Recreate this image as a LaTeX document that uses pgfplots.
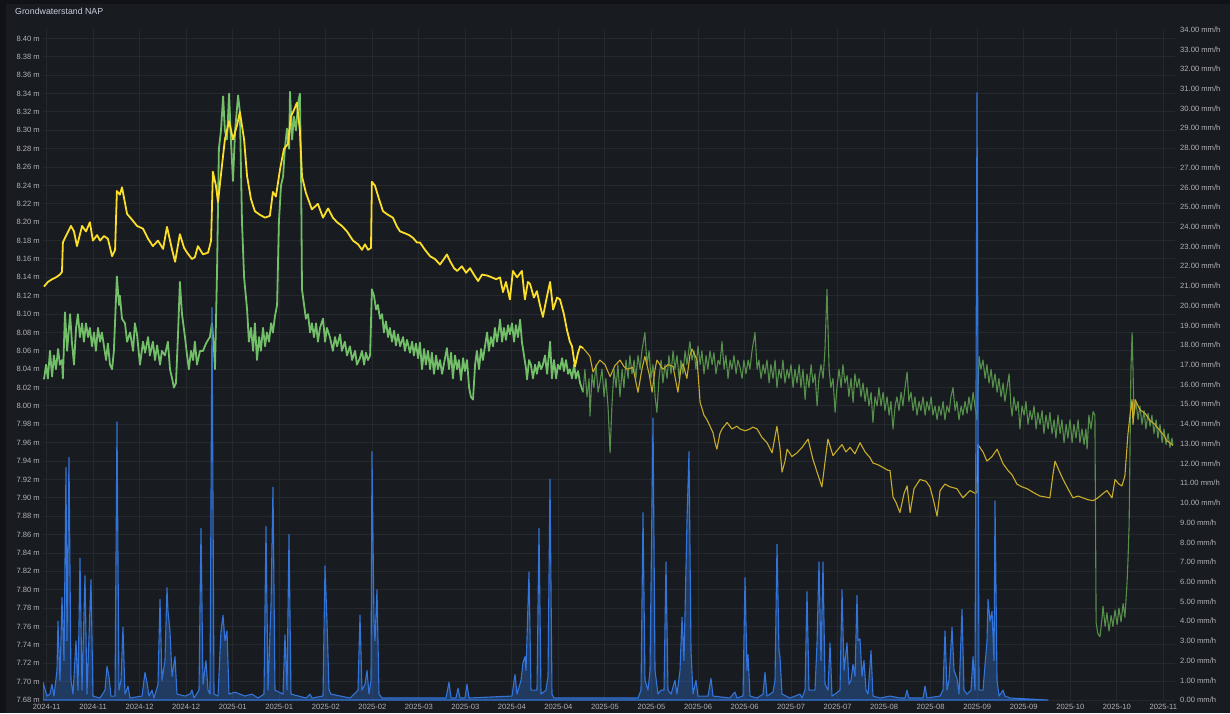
\documentclass[border=0pt]{standalone}
\usepackage{fontspec}
\setmainfont{Liberation Sans}
\usepackage{pgfplots}
\usepackage{pgfplotstable}
\pgfplotsset{compat=1.18}

\definecolor{outerbg}{RGB}{17,18,23}
\definecolor{panelbg}{RGB}{24,27,31}
\definecolor{gridc}{RGB}{37,40,45}
\definecolor{textc}{RGB}{178,178,188}
\definecolor{titlec}{RGB}{204,204,220}
\definecolor{ythick}{RGB}{250,222,42}
\definecolor{ythin}{RGB}{200,172,42}
\definecolor{gthick}{RGB}{115,191,105}
\definecolor{gthin}{RGB}{86,142,76}
\definecolor{rainc}{RGB}{50,116,217}

% x = days since the start of the series
% groundwater level, well A (m NAP), hourly record
\pgfplotstableread{
day level
0 8.130
1.3 8.135
2.7 8.138
4.0 8.140
5.3 8.143
6.0 8.146
6.3 8.178
7.3 8.185
9.0 8.196
10.0 8.190
11.0 8.174
12.7 8.196
14.0 8.190
15.3 8.200
16.3 8.180
17.7 8.186
18.7 8.180
20.0 8.185
21.3 8.182
22.7 8.163
23.7 8.170
24.3 8.234
25.3 8.230
26.0 8.238
27.7 8.209
29.3 8.203
31.0 8.196
33.0 8.193
34.7 8.182
36.3 8.174
38.0 8.180
39.7 8.171
41.0 8.195
42.7 8.170
43.7 8.157
45.3 8.187
46.7 8.172
47.7 8.167
49.3 8.160
50.3 8.162
51.3 8.174
53.0 8.165
54.7 8.167
55.7 8.180
56.3 8.255
57.3 8.240
58.0 8.222
59.3 8.261
60.3 8.290
61.7 8.310
63.0 8.290
64.3 8.305
65.3 8.320
66.7 8.290
67.7 8.250
69.0 8.225
70.3 8.212
72.0 8.208
73.7 8.205
75.3 8.207
76.3 8.233
77.3 8.228
78.7 8.258
80.0 8.280
81.3 8.285
82.3 8.315
83.3 8.322
84.3 8.330
85.3 8.300
86.0 8.250
87.3 8.232
89.3 8.214
91.3 8.220
93.0 8.205
94.7 8.215
96.3 8.205
97.7 8.200
99.3 8.196
101.0 8.190
103.0 8.180
104.7 8.176
106.0 8.170
107.0 8.176
108.0 8.170
109.0 8.172
109.3 8.244
110.3 8.240
111.7 8.225
113.0 8.212
114.7 8.208
116.3 8.205
117.7 8.195
118.7 8.190
120.3 8.188
121.7 8.186
123.0 8.183
124.3 8.178
125.3 8.178
127.0 8.170
128.7 8.163
130.3 8.160
132.0 8.154
133.3 8.160
134.3 8.165
135.3 8.158
136.7 8.150
137.7 8.147
139.3 8.152
140.7 8.145
142.0 8.150
143.3 8.143
144.7 8.136
146.0 8.143
147.7 8.142
149.3 8.140
150.7 8.138
152.0 8.140
153.0 8.124
154.0 8.135
155.3 8.116
156.3 8.147
157.7 8.140
159.3 8.147
160.3 8.116
161.3 8.135
162.0 8.133
163.3 8.118
164.3 8.125
165.3 8.110
166.3 8.097
167.7 8.120
168.7 8.135
169.7 8.105
171.0 8.118
172.0 8.116
173.3 8.100
174.3 8.083
175.3 8.070
176.0 8.065
177.0 8.043
178.0 8.058
178.7 8.065
179.7 8.063
}\wellAhourly

% well A, daily record
\pgfplotstableread{
day level
179.7 8.063
181.0 8.058
182.0 8.054
183.0 8.037
184.3 8.045
185.3 8.050
187.0 8.045
188.7 8.032
190.3 8.044
192.0 8.050
193.3 8.043
194.3 8.040
196.3 8.042
198.0 8.015
199.3 8.040
200.3 8.054
201.7 8.035
202.7 8.015
203.7 8.040
204.3 8.050
206.3 8.040
208.0 8.045
209.7 8.043
211.3 8.015
212.3 8.040
213.0 8.046
214.3 8.030
215.3 8.055
216.0 8.062
217.7 8.050
218.7 8.004
220.0 7.990
221.0 7.985
222.0 7.978
223.0 7.971
223.7 7.960
224.3 7.953
225.3 7.970
226.0 7.975
227.7 7.982
229.3 7.975
231.0 7.978
232.0 7.975
233.7 7.973
235.3 7.975
236.3 7.977
237.7 7.975
239.3 7.966
241.0 7.960
242.7 7.949
244.3 7.978
245.3 7.955
246.0 7.928
247.0 7.940
247.7 7.953
249.3 7.945
251.0 7.949
252.7 7.955
254.7 7.964
256.3 7.942
258.0 7.925
259.3 7.912
261.3 7.964
263.0 7.946
264.7 7.953
266.0 7.958
267.3 7.950
268.7 7.955
270.3 7.948
272.0 7.960
273.7 7.950
275.3 7.944
276.3 7.938
278.0 7.936
279.7 7.933
281.3 7.930
282.0 7.930
283.0 7.901
284.0 7.895
285.3 7.884
286.7 7.905
287.7 7.913
288.7 7.884
290.0 7.910
291.0 7.915
292.0 7.920
294.0 7.918
295.3 7.912
296.3 7.900
297.7 7.880
298.7 7.908
300.3 7.915
302.0 7.912
304.3 7.910
306.3 7.900
308.7 7.908
310.3 7.905
311.0 7.906
311.3 7.958
313.0 7.950
314.3 7.940
316.0 7.945
317.7 7.953
319.7 7.937
321.3 7.930
322.7 7.925
324.3 7.915
326.0 7.912
327.7 7.910
329.7 7.906
332.0 7.902
333.7 7.901
335.3 7.900
336.3 7.925
337.0 7.940
338.3 7.930
339.7 7.920
341.3 7.910
343.0 7.900
344.7 7.902
346.3 7.900
348.0 7.898
349.7 7.897
351.3 7.900
352.7 7.904
354.3 7.908
356.0 7.900
357.0 7.920
358.3 7.915
359.3 7.913
360.3 7.924
361.3 7.969
362.0 7.990
362.7 8.007
363.0 7.980
363.7 8.007
364.7 8.000
365.3 7.996
367.0 7.992
368.7 7.984
370.3 7.980
372.0 7.973
373.3 7.968
374.3 7.962
375.3 7.960
376.3 7.957
}\wellAdaily

% groundwater level, well B (m NAP), hourly record
\pgfplotstableread{
day level
0 8.029
0.7 8.045
1.3 8.030
2.0 8.060
2.7 8.032
3.3 8.055
4.0 8.040
4.7 8.062
5.3 8.045
6.0 8.050
6.3 8.030
7.0 8.102
7.7 8.060
8.7 8.100
9.3 8.070
10.0 8.045
10.7 8.085
11.3 8.100
12.0 8.075
12.7 8.090
13.3 8.070
14.0 8.090
14.7 8.075
15.3 8.085
16.0 8.065
16.7 8.080
17.3 8.060
18.0 8.085
18.7 8.070
19.3 8.080
20.0 8.065
20.7 8.050
21.3 8.068
22.0 8.045
22.7 8.040
23.3 8.060
24.3 8.141
25.0 8.110
25.3 8.120
26.0 8.095
27.0 8.090
27.7 8.070
28.7 8.080
29.7 8.060
30.3 8.090
31.0 8.078
32.0 8.045
33.0 8.070
33.7 8.058
34.7 8.075
35.3 8.055
36.3 8.070
37.0 8.050
37.7 8.066
38.7 8.045
39.3 8.060
40.3 8.055
41.3 8.070
42.0 8.040
42.7 8.030
43.3 8.020
44.0 8.025
44.7 8.080
45.3 8.135
46.0 8.100
47.0 8.075
47.7 8.055
48.3 8.040
49.0 8.060
49.7 8.050
50.3 8.070
51.0 8.045
52.0 8.060
53.0 8.060
54.0 8.068
54.7 8.072
55.3 8.075
56.0 8.090
56.7 8.060
57.0 8.040
57.7 8.150
58.3 8.280
59.0 8.300
59.7 8.337
60.3 8.300
61.0 8.290
61.7 8.340
62.3 8.290
63.0 8.245
63.7 8.300
64.7 8.338
65.3 8.320
66.0 8.200
66.7 8.140
67.7 8.105
68.3 8.070
69.0 8.085
69.7 8.060
70.3 8.090
71.0 8.050
71.7 8.075
72.3 8.060
73.0 8.085
73.7 8.065
74.3 8.080
75.0 8.070
75.7 8.090
76.3 8.080
77.0 8.098
77.7 8.110
78.3 8.200
79.0 8.240
79.7 8.250
80.3 8.280
81.0 8.302
81.7 8.280
82.0 8.342
82.7 8.290
83.3 8.315
84.0 8.300
84.7 8.330
85.3 8.340
85.7 8.250
86.0 8.127
86.7 8.110
87.3 8.095
88.0 8.100
88.7 8.080
89.3 8.090
90.0 8.075
90.7 8.090
91.3 8.070
92.0 8.085
93.0 8.095
93.7 8.070
94.3 8.085
95.3 8.075
96.3 8.060
97.0 8.075
97.7 8.065
98.7 8.078
99.3 8.060
100.3 8.070
101.0 8.055
102.0 8.065
102.7 8.050
103.7 8.060
104.3 8.045
105.3 8.052
106.0 8.060
106.7 8.045
107.3 8.058
108.0 8.050
108.7 8.055
109.3 8.127
110.0 8.120
110.7 8.105
111.3 8.110
112.0 8.095
112.7 8.100
113.3 8.080
114.0 8.092
114.7 8.075
115.3 8.085
116.0 8.070
116.7 8.082
117.3 8.066
118.0 8.078
118.7 8.065
119.7 8.075
120.3 8.060
121.0 8.072
122.0 8.058
122.7 8.070
123.3 8.055
124.0 8.068
124.7 8.052
125.3 8.069
126.0 8.040
126.7 8.062
127.3 8.045
128.0 8.060
128.7 8.040
129.3 8.058
130.0 8.035
130.7 8.055
131.3 8.040
132.0 8.050
132.7 8.035
134.3 8.063
135.0 8.040
135.7 8.058
136.3 8.030
137.0 8.055
137.7 8.040
138.3 8.050
139.0 8.028
139.7 8.052
140.3 8.038
141.0 8.050
141.7 8.020
142.3 8.010
143.0 8.007
143.7 8.045
144.3 8.060
145.0 8.040
145.7 8.062
146.3 8.050
147.0 8.065
147.7 8.080
148.3 8.060
149.0 8.075
149.7 8.065
150.3 8.085
151.0 8.070
151.7 8.085
152.0 8.094
152.7 8.070
153.3 8.085
154.0 8.072
154.7 8.088
155.3 8.078
156.0 8.090
156.7 8.070
157.3 8.088
158.0 8.075
158.7 8.094
159.3 8.070
160.0 8.055
160.7 8.040
161.0 8.029
161.7 8.050
162.3 8.045
163.0 8.030
163.7 8.045
164.3 8.035
165.0 8.048
165.7 8.040
166.3 8.045
167.0 8.055
167.7 8.035
168.7 8.070
169.3 8.030
170.0 8.050
170.7 8.030
171.3 8.045
172.0 8.040
172.7 8.052
173.3 8.038
174.0 8.050
174.7 8.035
175.3 8.040
176.0 8.030
176.7 8.045
177.3 8.030
178.0 8.038
178.7 8.025
179.7 8.015
}\wellBhourly

% well B, daily record
\pgfplotstableread{
day level
179.7 8.015
180.3 8.040
181.0 8.010
181.7 8.030
182.0 7.989
182.7 8.035
183.3 8.020
184.0 8.045
184.7 8.015
185.3 8.025
186.0 8.040
186.7 8.010
187.3 8.030
188.0 8.000
188.7 7.949
189.3 8.000
190.0 8.040
190.7 8.020
191.3 8.045
192.0 8.010
192.7 8.040
193.3 8.020
194.0 8.050
194.7 8.030
195.3 8.055
196.0 8.035
196.7 8.050
197.3 8.030
198.0 8.055
198.7 8.040
199.3 8.060
200.3 8.080
201.0 8.045
201.7 8.060
202.3 8.030
203.0 8.045
203.7 8.010
204.3 7.993
205.0 8.030
205.7 8.050
206.3 8.025
207.0 8.045
207.7 8.030
208.3 8.055
209.0 8.035
209.7 8.060
210.3 8.040
211.0 8.055
211.7 8.030
212.3 8.050
213.0 8.035
213.7 8.060
214.3 8.045
215.3 8.070
216.0 8.050
216.7 8.060
217.3 8.040
218.0 8.065
218.7 8.045
219.3 8.060
220.0 8.035
220.7 8.055
221.3 8.040
222.0 8.060
222.7 8.045
223.3 8.058
224.0 8.035
224.7 8.050
225.3 8.045
226.0 8.070
226.7 8.040
227.3 8.055
228.0 8.030
228.7 8.050
229.3 8.040
230.0 8.055
230.7 8.035
231.3 8.050
232.0 8.042
232.7 8.030
233.3 8.050
234.0 8.035
234.7 8.050
235.3 8.040
236.0 8.060
237.0 8.080
237.7 8.040
238.3 8.050
239.0 8.030
239.7 8.045
240.3 8.035
241.0 8.050
241.7 8.025
242.3 8.045
243.0 8.030
243.7 8.050
244.3 8.020
245.0 8.040
245.7 8.030
246.3 8.050
247.0 8.025
247.7 8.040
248.3 8.030
249.0 8.045
249.7 8.020
250.3 8.040
251.0 8.025
251.7 8.045
252.3 8.020
253.0 8.040
253.7 8.007
254.3 8.035
255.0 8.020
255.7 8.045
256.3 8.025
257.0 8.035
257.7 8.000
258.3 8.030
259.0 8.045
259.7 8.030
260.3 8.060
261.0 8.127
261.7 8.040
262.3 8.020
263.0 8.030
263.7 7.993
264.3 8.020
265.0 8.040
265.7 8.020
266.3 8.045
267.0 8.025
267.7 8.033
268.3 8.010
269.0 8.030
269.7 8.004
270.3 8.035
271.0 8.020
271.7 8.030
272.3 8.010
273.0 8.025
273.7 8.005
274.3 8.020
275.0 8.000
275.7 8.015
276.3 7.982
277.0 8.010
277.7 8.000
278.3 8.020
279.0 8.000
279.7 8.015
280.3 7.995
281.0 8.010
281.7 7.990
282.3 8.005
283.0 7.975
283.7 8.000
284.3 8.010
285.0 7.995
285.7 8.015
286.3 8.000
287.0 8.020
287.7 8.037
288.3 8.005
289.0 8.015
289.7 7.995
290.3 8.010
291.0 7.990
291.7 8.005
292.3 7.995
293.0 8.010
293.7 7.990
294.3 8.005
295.0 7.995
295.7 8.010
296.3 7.990
297.0 8.000
297.7 7.985
298.3 8.000
299.0 7.990
299.7 8.005
300.3 7.985
301.0 8.000
301.7 7.993
302.3 8.010
303.0 8.020
303.7 7.995
304.3 8.005
305.0 7.985
305.7 8.000
306.3 7.990
307.0 8.005
307.7 7.992
308.3 8.010
309.0 7.995
309.7 8.015
310.3 8.000
311.0 7.985
311.7 8.054
312.3 8.040
313.0 8.050
313.7 8.030
314.3 8.045
315.0 8.025
315.7 8.040
316.3 8.020
317.0 8.035
317.7 8.015
318.3 8.030
319.0 8.010
319.7 8.025
320.3 8.005
321.0 8.020
321.7 8.035
322.3 8.000
322.7 7.989
323.3 8.010
324.0 7.995
324.7 8.005
325.3 7.975
326.0 8.000
326.7 7.990
327.3 8.005
328.0 7.980
328.7 7.995
329.3 7.985
330.0 8.000
330.7 7.975
331.3 7.993
332.0 7.980
332.7 7.995
333.3 7.970
334.0 7.990
334.7 7.975
335.3 7.993
336.0 7.970
336.7 7.985
337.3 7.965
338.0 7.990
338.7 7.970
339.3 7.985
340.0 7.960
340.7 7.980
341.3 7.965
342.0 7.985
342.7 7.960
343.3 7.980
344.0 7.965
344.7 7.985
345.3 7.960
346.0 7.975
346.7 7.958
347.3 7.975
347.7 7.953
348.3 7.990
349.0 7.975
349.7 7.994
350.3 7.990
350.7 7.764
351.3 7.752
352.0 7.749
352.7 7.770
353.0 7.782
353.7 7.760
354.3 7.775
355.0 7.755
355.7 7.772
356.3 7.760
357.0 7.778
357.7 7.762
358.3 7.780
359.0 7.765
359.7 7.785
360.3 7.770
361.0 7.807
361.3 7.830
361.7 7.870
362.0 7.953
362.3 8.040
362.7 8.080
363.0 8.040
363.3 7.990
364.0 8.004
364.7 7.985
365.3 8.000
366.0 7.980
366.7 7.995
367.3 7.975
368.0 7.992
368.7 7.978
369.3 7.990
370.0 7.970
370.7 7.985
371.3 7.965
372.0 7.980
372.7 7.960
373.3 7.975
374.0 7.958
374.7 7.970
375.3 7.955
376.0 7.965
376.3 7.957
}\wellBdaily

% precipitation intensity (mm/h)
\pgfplotstableread{
day rate
-0.33 0.9
1.0 0.2
2.0 0.3
2.67 0.8
3.33 0.2
4.33 1.5
4.67 4.0
5.33 1.0
6.0 5.2
6.67 2.0
7.33 11.8
7.67 3.0
8.33 12.3
9.0 1.0
9.67 0.3
10.67 3.0
11.33 0.5
12.0 7.2
12.67 0.5
13.67 6.3
14.33 0.3
15.67 6.1
16.33 0.2
18.67 0.1
20.33 0.5
21.0 1.7
21.67 1.2
22.33 0.2
23.67 0.2
24.33 14.1
25.0 0.5
25.67 1.0
26.33 3.7
27.0 0.3
28.0 0.7
28.67 0.1
32.67 0.2
33.67 1.4
34.33 0.9
35.0 0.2
36.0 0.5
36.67 0.1
38.0 0.8
38.67 5.1
39.33 1.0
40.33 2.0
41.0 5.7
41.33 4.5
42.0 3.5
42.67 1.2
43.67 2.2
44.33 0.3
47.0 0.2
48.67 0.3
49.33 0.5
50.0 0.1
51.67 0.5
52.33 8.7
53.0 0.8
54.0 2.0
54.67 0.5
55.33 0.3
56.0 19.9
56.67 0.3
58.0 0.2
59.0 3.5
59.67 4.3
60.33 3.0
61.0 3.5
61.67 0.3
63.67 0.4
67.0 0.2
69.33 0.3
71.33 0.1
73.33 0.3
74.0 8.8
74.67 0.5
75.67 4.8
76.33 10.8
77.0 0.5
79.67 0.3
80.33 3.3
81.0 0.5
81.67 8.4
82.33 0.3
87.33 0.1
88.67 0.3
89.33 0.1
93.0 0.2
93.67 6.8
94.33 4.0
95.0 0.5
95.67 0.3
102.0 0.1
104.67 0.5
105.33 4.3
106.0 0.5
107.0 0.8
107.67 1.5
108.33 0.3
109.0 1.0
109.33 12.6
110.0 4.0
110.33 3.0
111.0 5.6
111.67 0.3
112.67 0.1
134.0 0.1
135.0 0.9
135.67 0.1
137.33 0.1
138.0 0.6
138.67 0.1
140.33 0.1
141.0 0.8
141.67 0.1
156.0 0.2
157.0 1.3
157.67 0.3
159.0 1.0
159.67 1.9
160.33 2.2
160.67 1.5
161.67 6.5
162.33 0.5
164.33 0.5
165.0 8.7
165.67 0.3
167.33 0.5
168.0 1.2
168.67 11.2
169.33 0.3
170.0 0.1
198.0 0.1
199.0 0.5
199.67 9.5
200.33 1.0
201.33 0.5
202.0 1.5
203.0 14.3
203.67 1.5
204.67 0.3
205.67 0.5
206.67 0.5
207.33 7.0
208.0 0.5
209.0 0.3
210.33 1.0
211.0 0.3
212.0 1.5
212.67 4.2
213.33 2.0
214.33 9.1
215.0 12.6
215.67 2.5
216.33 0.3
217.33 1.0
218.0 0.2
221.33 0.2
222.33 1.1
223.0 0.2
228.67 0.1
229.67 0.3
230.33 0.4
231.0 0.1
233.0 0.2
233.67 6.2
234.33 1.5
234.67 2.3
235.33 0.2
237.67 0.1
239.67 0.3
240.33 1.4
241.0 0.2
243.0 0.4
243.67 1.0
244.33 7.9
245.0 2.5
245.33 2.2
246.0 0.3
248.67 0.1
252.0 0.3
252.67 0.1
253.67 0.5
254.33 5.5
255.0 0.5
257.0 0.5
257.67 2.9
258.33 7.0
259.0 2.0
259.67 7.0
260.33 0.8
261.33 0.5
262.0 2.9
262.67 0.2
263.67 0.3
265.33 0.5
266.0 5.6
266.67 1.5
267.67 2.9
268.33 0.8
269.0 1.0
269.67 1.8
270.33 1.2
271.0 5.3
271.33 3.0
272.0 3.1
272.67 1.2
273.33 2.0
274.0 0.5
274.67 0.3
275.67 2.5
276.33 0.2
278.67 0.1
282.0 0.2
285.33 0.1
287.0 0.1
287.67 0.5
288.33 0.1
293.0 0.1
293.67 0.7
294.33 0.1
298.67 0.2
299.67 0.5
300.33 3.5
301.0 0.5
301.67 1.0
302.67 3.7
303.33 1.5
304.33 1.1
305.0 0.3
306.0 4.6
306.67 0.5
307.67 0.3
309.0 0.5
309.67 2.2
310.33 0.5
311.0 30.8
311.67 0.5
313.0 0.5
313.67 1.8
314.33 3.0
314.67 5.1
315.33 4.0
316.0 4.5
316.67 2.0
317.0 10.1
317.67 1.0
318.33 0.2
319.67 0.5
320.33 0.2
322.0 0.1
334.67 0.0
}\rainfall

\begin{document}
\begin{tikzpicture}
\useasboundingbox (0,0) rectangle (1230pt,713pt);
\fill[outerbg] (0,0) rectangle (1230pt,713pt);
\fill[panelbg] (6pt,0) rectangle (1230pt,709pt);
\node[anchor=west, text=titlec, inner sep=0pt, font=\fontsize{8.8}{10}\selectfont]
  at (15pt,702pt) {Grondwaterstand NAP};

% left axis: groundwater levels
\begin{axis}[
  scale only axis, width=1132pt, height=670.7pt,
  at={(43pt,13pt)}, anchor=south west,
  xmin=-0.33, xmax=377, ymin=7.68, ymax=8.41,
  axis line style={draw=none}, major tick length=0pt,
  grid=major, grid style={gridc, line width=1pt},
  xtick={0.87,16.38,31.89,47.40,62.91,78.42,93.93,109.44,124.95,140.46,155.97,171.48,186.99,202.50,218.01,233.52,249.03,264.54,280.05,295.56,311.07,326.58,342.09,357.60,373.11},
  xticklabels={2024-11,2024-11,2024-12,2024-12,2025-01,2025-01,2025-02,2025-02,2025-03,2025-03,2025-04,2025-04,2025-05,2025-05,2025-06,2025-06,2025-07,2025-07,2025-08,2025-08,2025-09,2025-09,2025-10,2025-10,2025-11},
  ytick={7.68,7.70,7.72,7.74,7.76,7.78,7.80,7.82,7.84,7.86,7.88,7.90,7.92,7.94,7.96,7.98,8.00,8.02,8.04,8.06,8.08,8.10,8.12,8.14,8.16,8.18,8.20,8.22,8.24,8.26,8.28,8.30,8.32,8.34,8.36,8.38,8.40},
  /pgf/number format/assume math mode=true,
  yticklabel={\pgfmathprintnumber[fixed,fixed zerofill,precision=2]{\tick} m},
  ticklabel style={text=textc, font=\fontsize{7.6}{9}\selectfont},
  xticklabel style={anchor=north, inner sep=0pt, yshift=-4pt},
  yticklabel style={anchor=east, inner sep=0pt, xshift=-3pt},
  clip=true,
]
\addplot[gthick, line width=1.8pt, line join=round] table[x=day,y=level] {\wellBhourly};
\addplot[gthin, line width=1.1pt, line join=round] table[x=day,y=level] {\wellBdaily};
\addplot[ythick, line width=1.8pt, line join=round] table[x=day,y=level] {\wellAhourly};
\addplot[ythin, line width=1.1pt, line join=round] table[x=day,y=level] {\wellAdaily};
\end{axis}

% right axis: precipitation
\begin{axis}[
  scale only axis, width=1132pt, height=670.7pt,
  at={(43pt,13pt)}, anchor=south west,
  xmin=-0.33, xmax=377, ymin=0, ymax=34.02,
  axis line style={draw=none}, major tick length=0pt,
  xtick=\empty, ytick={0,1,...,34},
  yticklabel pos=right,
  /pgf/number format/assume math mode=true,
  yticklabel={\pgfmathprintnumber[fixed,fixed zerofill,precision=2]{\tick} mm/h},
  yticklabel style={anchor=west, inner sep=0pt, xshift=5pt, text=textc, font=\fontsize{7.6}{9}\selectfont},
]
\addplot[rainc, line width=1.1pt, line join=round, fill=rainc, fill opacity=0.35]
  table[x=day,y=rate] {\rainfall} \closedcycle;
\end{axis}
\end{tikzpicture}
\end{document}
